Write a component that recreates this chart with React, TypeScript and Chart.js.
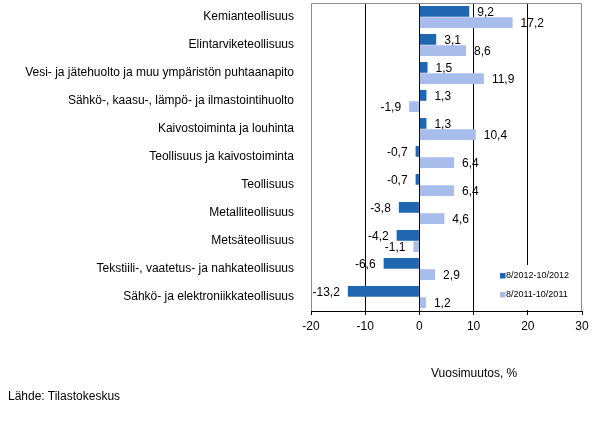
import React, { useEffect, useRef } from "react";
import { Chart, registerables } from "chart.js";

Chart.register(...registerables);

const categories = [
  "Kemianteollisuus",
  "Elintarviketeollisuus",
  "Vesi- ja jätehuolto ja muu ympäristön puhtaanapito",
  "Sähkö-, kaasu-, lämpö- ja ilmastointihuolto",
  "Kaivostoiminta ja louhinta",
  "Teollisuus ja kaivostoiminta",
  "Teollisuus",
  "Metalliteollisuus",
  "Metsäteollisuus",
  "Tekstiili-, vaatetus- ja nahkateollisuus",
  "Sähkö- ja elektroniikkateollisuus",
];

const series2012Label = "8/2012-10/2012";
const series2012 = [9.2, 3.1, 1.5, 1.3, 1.3, -0.7, -0.7, -3.8, -4.2, -6.6, -13.2];

const series2011Label = "8/2011-10/2011";
const series2011 = [17.2, 8.6, 11.9, -1.9, 10.4, 6.4, 6.4, 4.6, -1.1, 2.9, 1.2];

const xMin = -20;
const xMax = 30;
const xStep = 10;

const axisTitle = "Vuosimuutos, %";
const sourceText = "Lähde: Tilastokeskus";

const DARK = "#1f67b1";
const LIGHT = "#a8bdeb";
const FONT = "'Liberation Sans', Arial, sans-serif";

const fmt = (v: number) => v.toFixed(1).replace(".", ",");

const labelsPlugin = {
  id: "customDecor",
  afterDatasetsDraw(chart: any) {
    const ctx = chart.ctx;
    const area = chart.chartArea;
    ctx.save();
    // data labels
    ctx.font = `12px ${FONT}`;
    ctx.fillStyle = "#000";
    ctx.textBaseline = "middle";
    chart.data.datasets.forEach((ds: any, di: number) => {
      const meta = chart.getDatasetMeta(di);
      meta.data.forEach((el: any, i: number) => {
        const v = ds.data[i];
        const base = chart.scales.x.getPixelForValue(0);
        if (v >= 0) {
          ctx.textAlign = "left";
          ctx.fillText(fmt(v), Math.max(el.x, base) + 8, el.y + 1);
        } else {
          ctx.textAlign = "right";
          ctx.fillText(fmt(v), el.x - 8, el.y + 1);
        }
      });
    });
    // frame top/left/right
    ctx.strokeStyle = "#8c8c8c";
    ctx.lineWidth = 1;
    ctx.beginPath();
    const l = Math.round(area.left) + 0.5;
    const r = Math.round(area.right) - 0.5;
    const t = Math.round(area.top) + 0.5;
    const b = Math.round(area.bottom);
    ctx.moveTo(l, b);
    ctx.lineTo(l, t);
    ctx.lineTo(r, t);
    ctx.lineTo(r, b);
    ctx.stroke();
    // legend box
    const lx = 496;
    const ly = 265;
    ctx.fillStyle = "#fff";
    ctx.fillRect(lx, ly, r - lx - 1, b - ly - 1);
    ctx.font = `9px ${FONT}`;
    ctx.textAlign = "left";
    ctx.textBaseline = "middle";
    const items = [
      { label: chart.data.datasets[0].label, color: DARK, y: 275.5 },
      { label: chart.data.datasets[1].label, color: LIGHT, y: 294.5 },
    ];
    items.forEach((it) => {
      ctx.fillStyle = it.color;
      ctx.fillRect(500, it.y - 2.5, 5.5, 5.5);
      ctx.fillStyle = "#000";
      ctx.fillText(it.label, 506, it.y + 0.5);
    });
    ctx.restore();
  },
};

export default function App() {
  const ref = useRef<HTMLCanvasElement | null>(null);

  useEffect(() => {
    if (!ref.current) return;
    const chart = new Chart(ref.current, {
      type: "bar",
      data: {
        labels: categories,
        datasets: [
          {
            label: series2012Label,
            data: series2012,
            backgroundColor: DARK,
            categoryPercentage: 0.8,
            barPercentage: 0.96,
          },
          {
            label: series2011Label,
            data: series2011,
            backgroundColor: LIGHT,
            categoryPercentage: 0.8,
            barPercentage: 0.96,
          },
        ],
      },
      options: {
        indexAxis: "y",
        animation: false,
        responsive: false,
        devicePixelRatio: 1,
        layout: { padding: { left: 0, right: 16, top: 3, bottom: 80 } },
        plugins: {
          legend: { display: false },
          tooltip: { enabled: false },
        },
        scales: {
          x: {
            min: xMin,
            max: xMax,
            ticks: {
              stepSize: xStep,
              color: "#000",
              font: { family: FONT, size: 12 },
              padding: 4,
            },
            grid: {
              color: (c: any) =>
                c.tick && (c.tick.value === xMin || c.tick.value === xMax)
                  ? "rgba(0,0,0,0)"
                  : "#000",
              tickColor: "#000",
              tickLength: 4,
              lineWidth: 1,
            },
            border: { display: true, color: "#000", width: 1 },
            afterFit: (s: any) => {
              s.height = 30;
              s.paddingLeft = 0;
              s.paddingRight = 0;
            },
          },
          y: {
            ticks: {
              color: "#000",
              font: { family: FONT, size: 12 },
              padding: 9,
              autoSkip: false,
            },
            grid: { display: false },
            border: { display: false },
            afterFit: (s: any) => {
              s.width = 311;
              s.paddingTop = 0;
              s.paddingBottom = 0;
            },
          },
        },
      },
      plugins: [labelsPlugin],
    });
    return () => chart.destroy();
  }, []);

  return (
    <div style={{ position: "fixed", left: 0, top: 0, width: 598, height: 421, background: "#fff" }}>
      <canvas ref={ref} width={598} height={421} style={{ width: 598, height: 421, display: "block" }} />
      <div
        style={{
          position: "absolute",
          left: 431,
          top: 366,
          font: `12px ${FONT}`,
          color: "#000",
          whiteSpace: "nowrap",
        }}
      >
        {axisTitle}
      </div>
      <div
        style={{
          position: "absolute",
          left: 8,
          top: 389,
          font: `12px ${FONT}`,
          color: "#000",
          whiteSpace: "nowrap",
        }}
      >
        {sourceText}
      </div>
    </div>
  );
}
